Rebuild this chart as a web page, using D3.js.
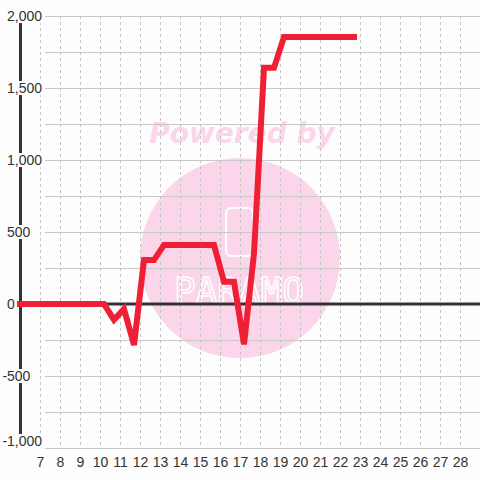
<!DOCTYPE html>
<html>
<head>
<meta charset="utf-8">
<script src="https://cdn.jsdelivr.net/npm/d3@7"></script>
<style>
  html, body { margin: 0; padding: 0; background: #fdfdfd; }
  svg { display: block; }
  text { font-family: "Liberation Sans", Arial, sans-serif; }
</style>
</head>
<body>
<svg width="480" height="480"></svg>
<script>
// line vertices (x value, y value)
const times  = [6, 10.2, 10.7, 11.2, 11.7, 12.2, 12.7, 13.2, 15.7, 16.2, 16.7, 17.2, 17.7, 18.2, 18.7, 19.2, 22.7];
const values = [0, 0, -110, -35, -285, 305, 305, 410, 410, 155, 155, -280, 350, 1640, 1640, 1855, 1855];

const xTicks = d3.range(7, 29);
const yTicks = [-1000, -500, 0, 500, 1000, 1500, 2000];
const yGrid  = d3.range(-1000, 2001, 250);

const svg = d3.select("svg"),
      width = +svg.attr("width"),
      height = +svg.attr("height"),
      bg = "#fdfdfd";

const x = d3.scaleLinear().domain([7, 29]).range([40, 480]);
const y = d3.scaleLinear().domain([-1000, 2000]).range([448, 16]);

svg.append("rect").attr("width", width).attr("height", height).attr("fill", bg);

// watermark
const wm = svg.append("g");
wm.append("text")
  .attr("x", 242)
  .attr("y", 143)
  .attr("text-anchor", "middle")
  .style("font-family", "DejaVu Sans")
  .style("font-weight", "bold")
  .style("font-style", "italic")
  .style("font-size", "28px")
  .attr("fill", "#fbd5ea")
  .text("Powered by");
wm.append("circle").attr("cx", 240).attr("cy", 258).attr("r", 100).attr("fill", "#fbd5ea");
wm.append("rect")
  .attr("x", 226).attr("y", 208).attr("width", 27).attr("height", 48).attr("rx", 5)
  .attr("fill", "none").attr("stroke", "#fff").attr("stroke-width", 2);
wm.append("text")
  .attr("x", 239)
  .attr("y", 303)
  .attr("text-anchor", "middle")
  .style("font-family", "DejaVu Sans Mono")
  .style("font-size", "36px")
  .attr("fill", "#fbd5ea")
  .attr("stroke", "#fff")
  .attr("stroke-width", 1.5)
  .text("PARAMO");

// grid
svg.append("g").selectAll("line")
  .data(yGrid)
  .enter()
  .append("line")
  .attr("x1", 45).attr("x2", width)
  .attr("y1", d => Math.round(y(d)) + 0.5)
  .attr("y2", d => Math.round(y(d)) + 0.5)
  .attr("stroke", "#c8c8c8");

svg.append("g").selectAll("line")
  .data(d3.range(7, 30))
  .enter()
  .append("line")
  .attr("x1", d => Math.round(x(d)) + 0.5)
  .attr("x2", d => Math.round(x(d)) + 0.5)
  .attr("y1", y(2000)).attr("y2", y(-1000))
  .attr("stroke", "#c4c4c4")
  .attr("stroke-dasharray", "3,3");

// y axis line
svg.append("line")
  .attr("x1", 20.5).attr("x2", 20.5)
  .attr("y1", y(2000)).attr("y2", y(-1000))
  .attr("stroke", "#333").attr("stroke-width", 3);

// zero line
svg.append("line")
  .attr("x1", 20).attr("x2", width)
  .attr("y1", y(0)).attr("y2", y(0))
  .attr("stroke", "#333").attr("stroke-width", 3);

// y labels with background (bottom one is nudged up inside the plot)
const fmt = d3.format(",");
const yl = svg.append("g").selectAll("g")
  .data(yTicks)
  .enter()
  .append("g");
yl.append("text")
  .attr("x", 7)
  .attr("y", d => y(d) - (d === -1000 ? 7 : 0))
  .attr("dx", d => d < 0 ? "-0.33em" : 0)
  .attr("dy", "0.36em")
  .style("font-size", "14px")
  .attr("fill", "#333")
  .text(d => fmt(d).replace("−", "-"));
yl.each(function() {
  const t = d3.select(this).select("text");
  const b = t.node().getBBox();
  d3.select(this).insert("rect", "text")
    .attr("x", b.x - 1).attr("y", b.y + 1)
    .attr("width", b.width + 2).attr("height", b.height - 2)
    .attr("fill", bg);
});

// x labels
svg.append("g").selectAll("text")
  .data(xTicks)
  .enter()
  .append("text")
  .attr("x", d => x(d) + 0.5)
  .attr("y", 462)
  .attr("dy", "0.36em")
  .attr("text-anchor", "middle")
  .style("font-size", "14px")
  .attr("fill", "#333")
  .text(d => d);

// data line
const line = d3.line()
  .x((d, i) => x(times[i]))
  .y(d => y(d));

svg.append("path")
  .datum(values)
  .attr("d", line)
  .attr("fill", "none")
  .attr("stroke", "#ef2036")
  .attr("stroke-width", 6)
  .attr("stroke-linecap", "square");
</script>
</body>
</html>
